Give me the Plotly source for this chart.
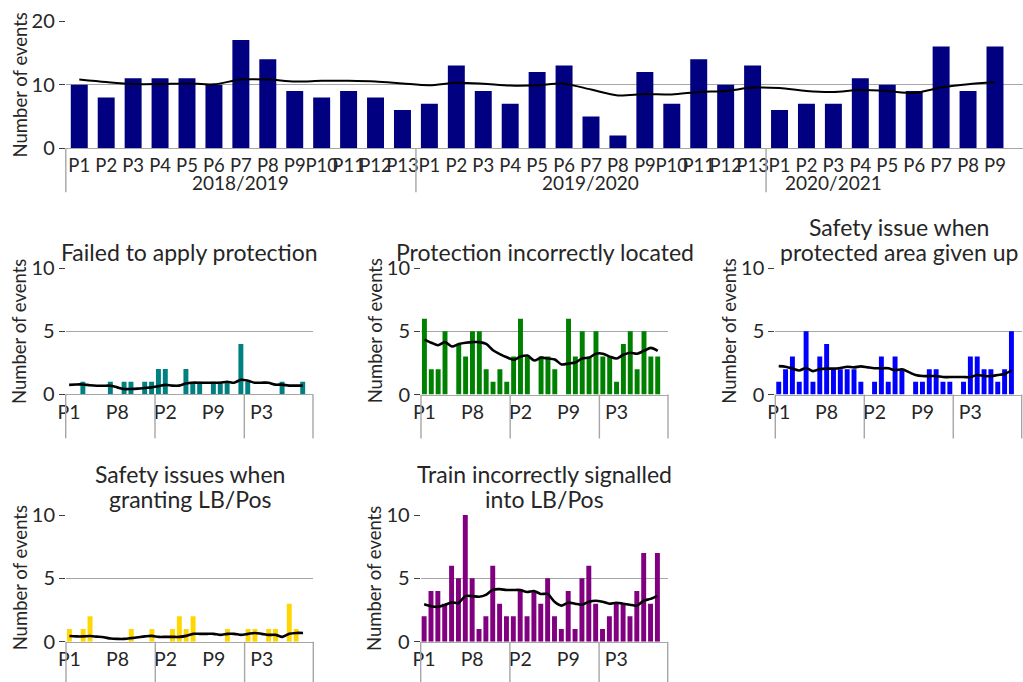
import plotly.graph_objects as go

W, H = 1023, 682
FONT = "Lato"
TEXT = "#262626"
GRID = "#a6a6a6"

# ---------------------------------------------------------------- data
years = ["2018/2019", "2019/2020", "2020/2021"]
year_slots = [13, 13, 10]          # periods per year on the axis (2020/2021 runs to P10)

periods = ["P1", "P2", "P3", "P4", "P5", "P6", "P7", "P8", "P9", "P10", "P11", "P12", "P13",
           "P1", "P2", "P3", "P4", "P5", "P6", "P7", "P8", "P9", "P10", "P11", "P12", "P13",
           "P1", "P2", "P3", "P4", "P5", "P6", "P7", "P8", "P9"]

total_events = [10, 8, 11, 11, 11, 10, 17, 14, 9, 8, 9, 8, 6,
                7, 13, 9, 7, 12, 13, 5, 2, 12, 7, 14, 10, 13,
                6, 7, 7, 11, 10, 9, 16, 9, 16]
total_trend = [10.8, 10.4, 10.1, 10.1, 10.2, 10.05, 10.8, 10.8, 10.5, 10.6, 10.6, 10.5, 10.2,
               9.92, 10.31, 10.15, 9.85, 9.92, 10.15, 9.23, 8.31, 8.54, 8.46, 8.85, 9.0, 9.54,
               9.46, 9.0, 8.85, 9.15, 9.0, 8.69, 9.54, 10.08, 10.38]

failed_to_apply = [0, 0, 1, 0, 0, 0, 1, 0, 1, 1, 0, 1, 1,
                   2, 2, 0, 0, 2, 1, 1, 0, 1, 1, 1, 0, 4,
                   1, 0, 0, 0, 0, 1, 0, 0, 1]
failed_to_apply_trend = [0.75, 0.78, 0.78, 0.72, 0.68, 0.68, 0.68, 0.55, 0.42, 0.42, 0.45, 0.5, 0.55,
                         0.65, 0.75, 0.69, 0.69, 0.85, 0.92, 0.92, 0.92, 0.92, 0.92, 1.0, 0.92, 1.15,
                         1.08, 0.92, 0.92, 0.92, 0.77, 0.77, 0.69, 0.69, 0.69]

incorrectly_located = [6, 2, 2, 5, 0, 4, 3, 5, 5, 2, 1, 2, 1,
                       3, 6, 3, 0, 3, 3, 2, 0, 6, 3, 5, 3, 5,
                       3, 3, 1, 4, 5, 2, 5, 3, 3]
incorrectly_located_trend = [4.35, 4.1, 3.9, 4.15, 3.8, 4.0, 4.1, 4.15, 4.15, 4.0, 3.5, 3.2, 2.95,
                             2.75, 3.0, 3.08, 2.69, 2.92, 2.85, 2.77, 2.38, 2.46, 2.54, 2.85, 2.92, 3.23,
                             3.23, 3.0, 2.85, 3.15, 3.31, 3.23, 3.46, 3.69, 3.46]

area_given_up = [1, 2, 3, 1, 5, 1, 3, 4, 2, 2, 2, 2, 1,
                 0, 1, 3, 1, 3, 2, 0, 1, 1, 2, 2, 1, 1,
                 0, 1, 3, 3, 2, 2, 1, 2, 5]
area_given_up_trend = [2.25, 2.2, 2.05, 1.9, 2.1, 1.85, 2.0, 2.05, 2.05, 2.1, 2.2, 2.15, 2.23,
                       2.15, 2.08, 2.08, 2.08, 1.92, 2.0, 1.77, 1.54, 1.46, 1.46, 1.46, 1.38, 1.38,
                       1.38, 1.38, 1.38, 1.54, 1.46, 1.46, 1.54, 1.62, 1.92]

granting_lb_pos = [1, 0, 1, 2, 0, 0, 0, 0, 0, 1, 0, 0, 1,
                   0, 0, 1, 2, 1, 2, 0, 0, 0, 0, 1, 0, 0,
                   1, 1, 0, 1, 1, 0, 3, 1, 0]
granting_lb_pos_trend = [0.45, 0.42, 0.42, 0.45, 0.4, 0.35, 0.25, 0.22, 0.22, 0.28, 0.35, 0.42, 0.46,
                         0.38, 0.38, 0.38, 0.38, 0.46, 0.62, 0.62, 0.62, 0.62, 0.54, 0.62, 0.62, 0.54,
                         0.62, 0.69, 0.62, 0.54, 0.54, 0.38, 0.62, 0.69, 0.69]

signalled_into = [2, 4, 4, 3, 6, 5, 10, 5, 1, 2, 6, 3, 2,
                  2, 4, 2, 4, 3, 5, 2, 1, 4, 1, 5, 6, 3,
                  1, 2, 3, 3, 2, 4, 7, 3, 7]
signalled_into_trend = [2.95, 2.8, 2.75, 2.9, 3.1, 3.05, 3.6, 3.6, 3.55, 3.7, 4.1, 4.15, 4.08,
                        4.08, 4.08, 3.92, 4.0, 3.77, 3.77, 3.15, 2.85, 3.08, 3.0, 2.92, 3.15, 3.23,
                        3.15, 3.0, 3.08, 3.0, 2.92, 2.85, 3.23, 3.38, 3.62]

small_tick_idx = [0, 7, 14, 21, 28]


# ---------------------------------------------------------------- helpers
def fx(px):
    return px / W


def fy(py):
    return 1 - py / H


fig = go.Figure()
annotations = []
shapes = []
xs = list(range(len(periods)))

# year boundaries on the category axis
bounds = [-0.5]
for n in year_slots:
    bounds.append(bounds[-1] + n)


def add_panel(n, values, trend, color, x0, x1, y_bottom, y_top, xrange, yrange,
              bar_width, line_width, tickvals, dividers_depth, tick_size):
    xa = "xaxis" if n == 1 else f"xaxis{n}"
    ya = "yaxis" if n == 1 else f"yaxis{n}"
    xr = "x" if n == 1 else f"x{n}"
    yr = "y" if n == 1 else f"y{n}"
    fig.add_trace(go.Bar(x=xs, y=values, width=bar_width, marker=dict(color=color, line_width=0),
                         xaxis=xr, yaxis=yr, showlegend=False, hoverinfo="skip"))
    fig.add_trace(go.Scatter(x=xs, y=trend, mode="lines",
                             line=dict(color="black", width=line_width, shape="spline", smoothing=0.8),
                             xaxis=xr, yaxis=yr, showlegend=False, hoverinfo="skip"))
    fig.layout[xa] = dict(
        domain=[fx(x0), fx(x1)], anchor=yr, range=xrange, automargin=False,
        tickmode="array", tickvals=tickvals, ticktext=[periods[i] for i in tickvals],
        tickangle=0, ticks="", showgrid=False, zeroline=False,
        showline=True, linecolor=GRID, linewidth=1.4,
        tickfont=dict(family=FONT, size=tick_size, color=TEXT), fixedrange=True,
    )
    fig.layout[ya] = dict(
        domain=[fy(y_bottom), fy(y_top)], anchor=xr, range=yrange, automargin=False,
        tickmode="array", tickvals=[0, yrange[1] / 2, yrange[1]],
        showgrid=True, gridcolor=GRID, gridwidth=1.3, zeroline=False, showline=False,
        ticks="outside", ticklen=6, tickcolor="#404040", tickwidth=1.2,
        tickfont=dict(family=FONT, size=20, color=TEXT), fixedrange=True,
    )
    # vertical year dividers below the category axis
    span = xrange[1] - xrange[0]
    for b in bounds:
        if b > xrange[1] + 1e-9:
            continue
        shapes.append(dict(type="line", xref=f"{xr} domain", yref=f"{yr} domain",
                           x0=(b - xrange[0]) / span, x1=(b - xrange[0]) / span,
                           y0=0, y1=-dividers_depth, line=dict(color=GRID, width=1.4)))
    # y axis title
    annotations.append(dict(text="Number of events", textangle=-90, xref="paper", yref="paper",
                            x=fx(x0 - 46), y=(fy(y_bottom) + fy(y_top)) / 2,
                            showarrow=False, xanchor="center", yanchor="middle",
                            font=dict(family=FONT, size=18.5, color=TEXT)))


# ---------------------------------------------------------------- top: all events
add_panel(1, total_events, total_trend, "#000080", 65.8, W, 148.3, 21,
          [-0.5, 35.04], [0, 20], 0.63, 2, xs, 44 / 127.3, 18.5)

year_label_x = [6, 19, 28]
for label, xv in zip(years, year_label_x):
    annotations.append(dict(text=label, xref="x", yref="paper", x=xv, y=fy(182.5),
                            showarrow=False, xanchor="center", yanchor="middle",
                            font=dict(family=FONT, size=19, color=TEXT)))

# ---------------------------------------------------------------- small multiples
panels = [
    (["Failed to apply protection"], failed_to_apply, failed_to_apply_trend, "#008080",
     65.7, 313.0, 394.3, 268.3),
    (["Protection incorrectly located"], incorrectly_located, incorrectly_located_trend, "#008000",
     421.0, 668.0, 394.5, 268.2),
    (["Safety issue when", "protected area given up"], area_given_up, area_given_up_trend, "#0000FF",
     775.3, 1021.7, 394.5, 268.2),
    (["Safety issues when", "granting LB/Pos"], granting_lb_pos, granting_lb_pos_trend, "#FFD700",
     66.0, 313.3, 641.7, 515.0),
    (["Train incorrectly signalled", "into LB/Pos"], signalled_into, signalled_into_trend, "#800080",
     420.7, 667.7, 641.7, 515.0),
]

for k, (title, vals, trend, color, x0, x1, yb, yt) in enumerate(panels, start=2):
    add_panel(k, vals, trend, color, x0, x1, yb, yt, [-0.5, 35.5], [0, 10], 0.72, 2.6,
              small_tick_idx, 44 / (yb - yt), 19.5)
    last_line_y = yt - 16
    for j, line in enumerate(reversed(title)):
        annotations.append(dict(text=line, xref="paper", yref="paper",
                                x=(fx(x0) + fx(x1)) / 2, y=fy(last_line_y - 25 * j),
                                showarrow=False, xanchor="center", yanchor="middle",
                                font=dict(family=FONT, size=23, color=TEXT)))

fig.update_layout(
    width=W, height=H, margin=dict(l=0, r=0, t=0, b=0, autoexpand=False),
    paper_bgcolor="white", plot_bgcolor="white",
    font=dict(family=FONT, color=TEXT),
    annotations=annotations, shapes=shapes, showlegend=False,
)

fig.write_html("out.html", config={"displayModeBar": False})
